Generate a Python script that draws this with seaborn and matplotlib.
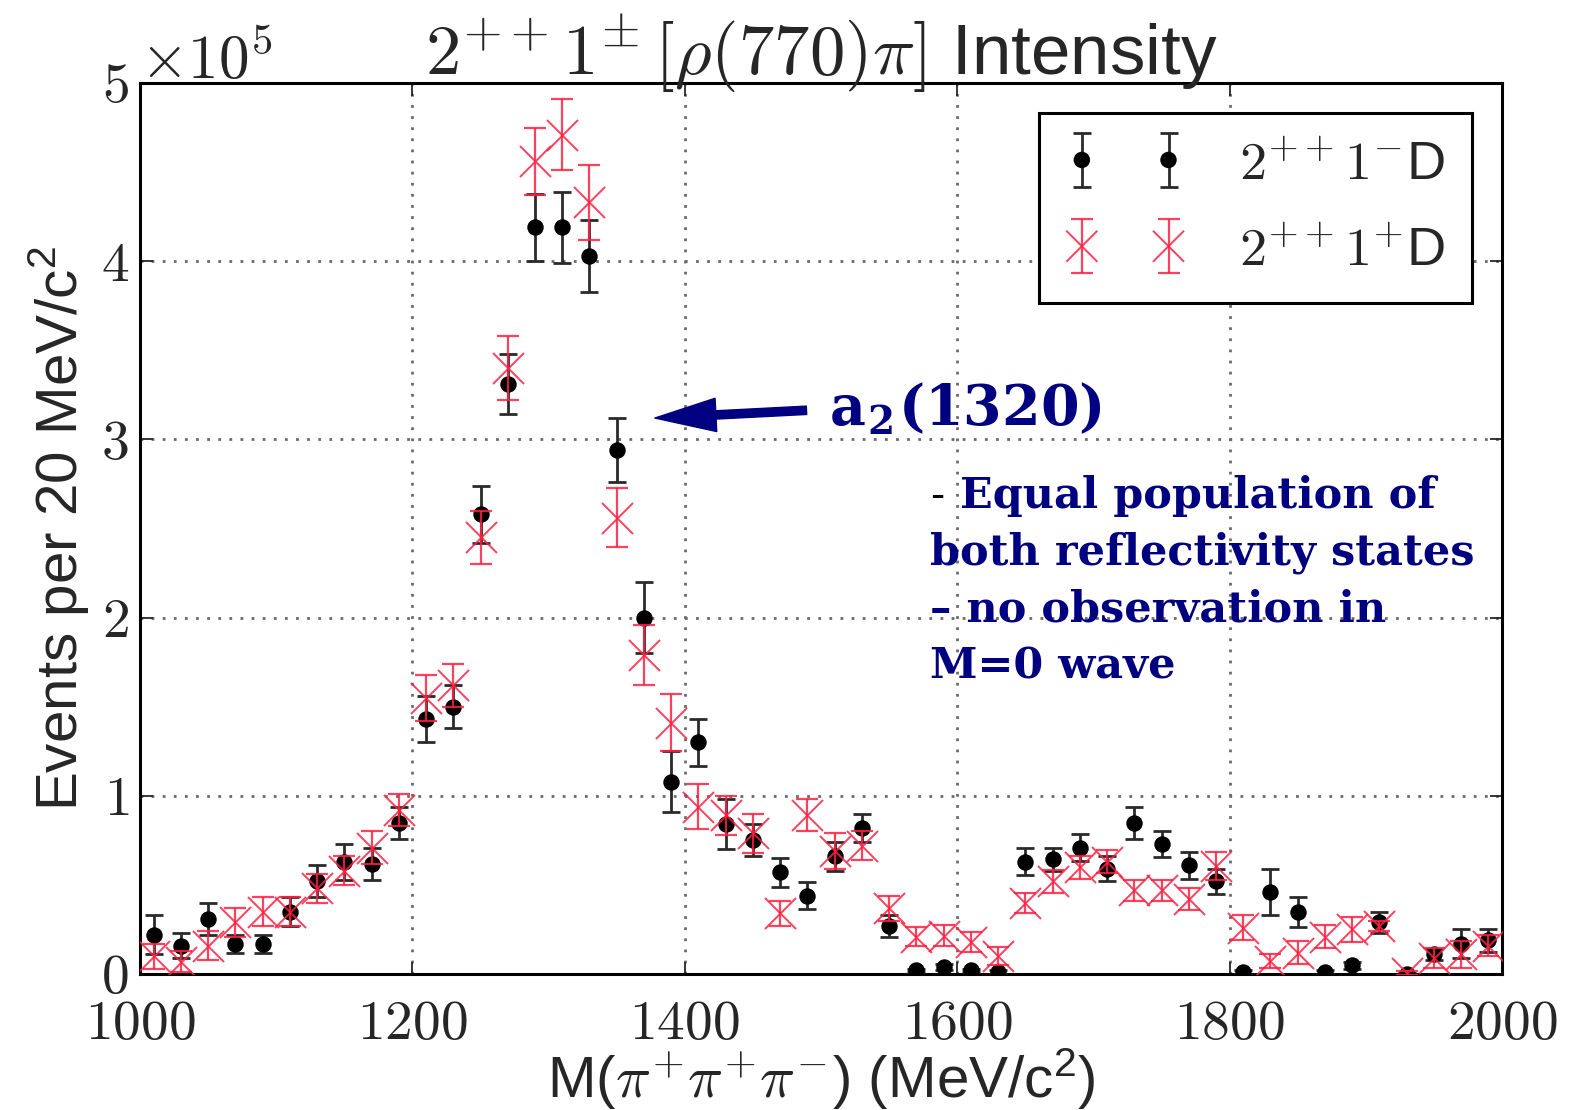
import numpy as np
import pandas as pd
import matplotlib
matplotlib.use('Agg')
import matplotlib.pyplot as plt
from matplotlib.ticker import ScalarFormatter, MultipleLocator
from matplotlib.legend_handler import HandlerTuple
import seaborn as sns

sns.set_theme(style='ticks')
plt.rcParams['font.family'] = ['Liberation Sans', 'DejaVu Sans']
plt.rcParams['mathtext.fontset'] = 'cm'
plt.rcParams['axes.formatter.use_mathtext'] = True

###-----Data (units of 1e5 events per 20 MeV bin)-----###
scale = 1e5
mass = [1010, 1030, 1050, 1070, 1090, 1110, 1130, 1150, 1170, 1190,
        1210, 1230, 1250, 1270, 1290, 1310, 1330, 1350, 1370, 1390,
        1410, 1430, 1450, 1470, 1490, 1510, 1530, 1550, 1570, 1590,
        1610, 1630, 1650, 1670, 1690, 1710, 1730, 1750, 1770, 1790,
        1810, 1830, 1850, 1870, 1890, 1910, 1930, 1950, 1970, 1990]

# 2++1-D (black)
minus_y = [0.22, 0.16, 0.31, 0.17, 0.17, 0.35, 0.52, 0.63, 0.62, 0.85,
           1.43, 1.50, 2.58, 3.31, 4.19, 4.19, 4.03, 2.94, 2.00, 1.08,
           1.30, 0.84, 0.75, 0.57, 0.44, 0.66, 0.82, 0.27, 0.02, 0.04,
           0.02, 0.01, 0.63, 0.645, 0.71, 0.59, 0.85, 0.73, 0.61, 0.52,
           0.01, 0.46, 0.35, 0.01, 0.05, 0.29, 0.00, 0.11, 0.17, 0.19]
minus_err = [0.11, 0.07, 0.09, 0.05, 0.05, 0.08, 0.09, 0.10, 0.09, 0.09,
             0.13, 0.12, 0.16, 0.17, 0.19, 0.20, 0.20, 0.18, 0.20, 0.17,
             0.13, 0.14, 0.09, 0.08, 0.075, 0.08, 0.08, 0.06, 0.01, 0.015,
             0.01, 0.01, 0.075, 0.065, 0.075, 0.07, 0.09, 0.075, 0.075, 0.07,
             0.01, 0.13, 0.085, 0.01, 0.02, 0.06, 0.005, 0.03, 0.08, 0.065]

# 2++1+D (red)
plus_y = [0.10, 0.07, 0.16, 0.29, 0.35, 0.35, 0.48, 0.58, 0.71, 0.92,
          1.55, 1.62, 2.45, 3.40, 4.56, 4.71, 4.33, 2.56, 1.79, 1.41,
          0.94, 0.89, 0.79, 0.34, 0.89, 0.69, 0.72, 0.37, 0.21, 0.215,
          0.18, 0.10, 0.40, 0.52, 0.60, 0.63, 0.47, 0.47, 0.42, 0.605,
          0.26, 0.075, 0.12, 0.21, 0.25, 0.27, 0.005, 0.09, 0.11, 0.16]
plus_err = [0.07, 0.06, 0.08, 0.08, 0.08, 0.08, 0.08, 0.08, 0.09, 0.09,
            0.13, 0.12, 0.15, 0.18, 0.19, 0.20, 0.21, 0.165, 0.17, 0.16,
            0.125, 0.11, 0.11, 0.07, 0.09, 0.10, 0.08, 0.07, 0.055, 0.06,
            0.055, 0.05, 0.055, 0.065, 0.065, 0.065, 0.06, 0.06, 0.063, 0.08,
            0.07, 0.04, 0.065, 0.065, 0.07, 0.03, 0.01, 0.055, 0.075, 0.06]

df_minus = pd.DataFrame({'mass': mass, 'events': np.array(minus_y) * scale,
                         'err': np.array(minus_err) * scale})
df_plus = pd.DataFrame({'mass': mass, 'events': np.array(plus_y) * scale,
                        'err': np.array(plus_err) * scale})

red = '#ff2040'
navy = '#000080'

###-----Figure-----###
fig = plt.figure(figsize=(15.7, 11.1), dpi=100)
ax = fig.add_axes([0.0892, 0.1225, 0.8675, 0.8027])

eb_minus = ax.errorbar(df_minus['mass'], df_minus['events'], yerr=df_minus['err'], fmt='none',
                       ecolor='#2a2a2a', elinewidth=2.0, capsize=6.5, capthick=2.0, zorder=3)
sns.scatterplot(data=df_minus, x='mass', y='events', marker='o', s=140, color='black',
                linewidth=0, zorder=4, ax=ax, legend=False)
pts_minus = ax.collections[-1]

eb_plus = ax.errorbar(df_plus['mass'], df_plus['events'], yerr=df_plus['err'], fmt='none',
                      ecolor=red, elinewidth=1.6, capsize=8, capthick=1.6, alpha=0.85, zorder=5)
sns.scatterplot(data=df_plus, x='mass', y='events', marker='x', s=500, color=red,
                linewidth=1.4, alpha=0.85, zorder=6, ax=ax, legend=False)
pts_plus = ax.collections[-1]

#axes
ax.set_xlim(1000, 2000)
ax.set_ylim(0, 5 * scale)
ax.xaxis.set_major_locator(MultipleLocator(200))
ax.yaxis.set_major_locator(MultipleLocator(scale))
fmt = ScalarFormatter(useMathText=True)
fmt.set_powerlimits((0, 0))
ax.yaxis.set_major_formatter(fmt)
ax.tick_params(direction='in', top=True, right=True, length=9, width=1.3,
               labelsize=40, labelfontfamily='cmr10')
ax.tick_params(axis='x', pad=19)
ax.tick_params(axis='y', pad=8)
ax.yaxis.get_offset_text().set_fontfamily('cmr10')
ax.yaxis.get_offset_text().set_fontsize(44)
for sp in ax.spines.values():
    sp.set_linewidth(2.2)
    sp.set_color('black')
ax.set_axisbelow(True)
ax.grid(True, color='#6a6a6a', linestyle=(0, (1, 3.0)), linewidth=2)

ax.set_xlabel(r'M($\pi^{+}\pi^{+}\pi^{-}$) (MeV/c$\mathregular{^2}$)', fontsize=42, labelpad=-3)
ax.set_ylabel(r'Events per 20 MeV/c$\mathregular{^2}$', fontsize=42, labelpad=6)
ax.set_title(r'$2^{++}1^{\pm}\,[\rho(770)\pi]$ Intensity', fontsize=51, pad=6)

#legend
leg = ax.legend([(eb_minus, pts_minus), (eb_plus, pts_plus)],
                [r'$2^{++}1^{-}$D', r'$2^{++}1^{+}$D'],
                handler_map={tuple: HandlerTuple(ndivide=1)},
                numpoints=2, scatterpoints=2, scatteryoffsets=[0.5],
                loc='upper right', fontsize=39, frameon=True, fancybox=False,
                edgecolor='black', framealpha=1, handlelength=2.2, handletextpad=1.0,
                borderpad=0.5, labelspacing=0.67, borderaxespad=0.55)
leg.get_frame().set_linewidth(2.2)

#annotations
ax.annotate(r'a$_{\mathregular{2}}$(1320)', xy=(1378, 3.12 * scale), xytext=(1506, 3.17 * scale),
            fontsize=40, fontfamily='DejaVu Serif', fontweight='bold', color=navy,
            va='center', ha='left',
            arrowprops=dict(arrowstyle='simple,head_length=1.1,head_width=0.6,tail_width=0.15',
                            color=navy, mutation_scale=40, shrinkA=14, shrinkB=0, relpos=(0, 0.5)))

note_lines = ['Equal population of', 'both reflectivity states', '\u2013 no observation in', 'M=0 wave']
ax.annotate('-', xy=(1580, 2.615 * scale), fontsize=30, fontfamily='DejaVu Serif', color='black',
            va='baseline', ha='left')
for i, line in enumerate(note_lines):
    x0 = 1602 if i == 0 else 1580
    ax.annotate(line, xy=(x0, 2.615 * scale), xytext=(0, -41 * i), textcoords='offset points',
                fontsize=31, fontfamily='DejaVu Serif', fontweight='bold', color=navy,
                va='baseline', ha='left')

plt.savefig('out.png', dpi=100)
plt.close(fig)
